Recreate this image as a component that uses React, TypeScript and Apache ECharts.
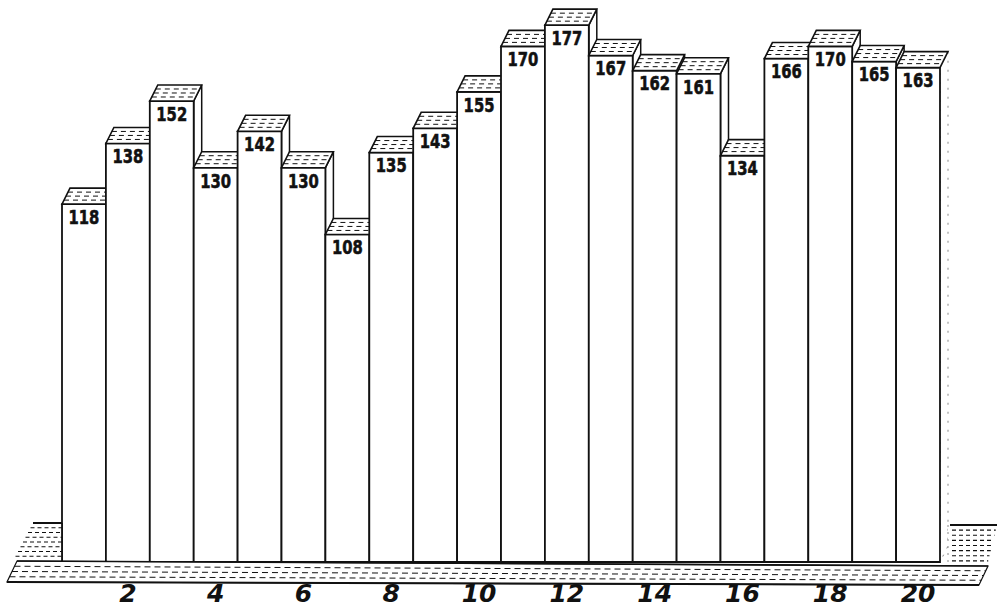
import React, { useEffect, useRef } from 'react';
import * as echarts from 'echarts';

const categories = ['1', '2', '3', '4', '5', '6', '7', '8', '9', '10', '11', '12', '13', '14', '15', '16', '17', '18', '19', '20'];
const values = [118, 138, 152, 130, 142, 130, 108, 135, 143, 155, 170, 177, 167, 162, 161, 134, 166, 170, 165, 163];

const INK = '#111';
const DX = 8;
const DY = 16;

function stripeLines(
  l0: number, r0: number, y0: number,
  l1: number, r1: number, y1: number,
  n: number, dash: number[] | null, width: number
) {
  const out: any[] = [];
  for (let k = 1; k < n; k++) {
    const t = k / n;
    out.push({
      type: 'line',
      silent: true,
      shape: {
        x1: l0 + (l1 - l0) * t, y1: y0 + (y1 - y0) * t,
        x2: r0 + (r1 - r0) * t, y2: y0 + (y1 - y0) * t,
      },
      style: { stroke: INK, lineWidth: width, lineDash: dash || undefined },
    });
  }
  return out;
}

export default function App() {
  const ref = useRef<HTMLDivElement>(null);
  useEffect(() => {
    if (!ref.current) return;
    const chart = echarts.init(ref.current, undefined, { renderer: 'svg' });

    const renderItem = (params: any, api: any) => {
      const idx = params.dataIndex;
      const v = api.value(1);
      const top = api.coord([api.value(0), v]);
      const base = api.coord([api.value(0), 0]);
      const w = api.size([1, 0])[0];
      const x0 = top[0] - w / 2;
      const x1 = top[0] + w / 2;
      const yt = top[1];
      const yb = base[1];
      const last = idx === values.length - 1;
      const children: any[] = [];
      children.push({
        type: 'polygon',
        shape: { points: [[x1, yt], [x1 + DX, yt - DY], [x1 + DX, yb - DY], [x1, yb]] },
        style: last
          ? { fill: '#fff', stroke: '#888', lineWidth: 1, lineDash: [2, 7] }
          : { fill: '#fff', stroke: INK, lineWidth: 1.5 },
      });
      children.push({
        type: 'rect',
        shape: { x: x0, y: yt, width: w, height: yb - yt },
        style: { fill: '#fff', stroke: INK, lineWidth: 1.8 },
      });
      children.push({
        type: 'polygon',
        shape: { points: [[x0, yt], [x1, yt], [x1 + DX, yt - DY], [x0 + DX, yt - DY]] },
        style: { fill: '#fff', stroke: INK, lineWidth: 1.6 },
      });
      children.push(...stripeLines(x0, x1, yt, x0 + DX, x1 + DX, yt - DY, 4, [5, 4], 1));
      children.push({
        type: 'text',
        x: (x0 + x1) / 2,
        y: yt + 13,
        scaleX: 0.74,
        style: {
          text: String(v),
          x: 0,
          y: 0,
          textAlign: 'center',
          textVerticalAlign: 'middle',
          fontFamily: '"DejaVu Sans", sans-serif',
          fontWeight: 'bold',
          fontSize: 20,
          fill: INK,
          stroke: INK,
          lineWidth: 0.6,
        },
      });
      return { type: 'group', children };
    };

    const floorTL = [17, 561], floorTR = [988, 566], floorBR = [979, 585], floorBL = [7, 582];

    const graphics: any[] = [
      {
        type: 'polygon', z: 5,
        shape: { points: [[33, 523], [62, 523], [62, 561], [13, 561]] },
        style: { fill: '#fff', stroke: null },
      },
      ...stripeLines(33, 62, 523, 13, 62, 561, 8, [4, 3], 1.2).map((e) => ({ ...e, z: 5 })),
      { type: 'line', z: 5, shape: { x1: 33, y1: 523, x2: 62, y2: 523 }, style: { stroke: INK, lineWidth: 2 } },
      { type: 'line', z: 5, shape: { x1: 62, y1: 523, x2: 62, y2: 561 }, style: { stroke: INK, lineWidth: 1.8 } },
      {
        type: 'polygon', z: 5,
        shape: { points: [[948, 525], [997, 525], [987, 566], [948, 566]] },
        style: { fill: '#fff', stroke: null },
      },
      ...stripeLines(952, 997, 525, 952, 987, 566, 8, [4, 3], 1.1).map((e) => ({ ...e, z: 5 })),
      { type: 'line', z: 5, shape: { x1: 950, y1: 525, x2: 997, y2: 525 }, style: { stroke: INK, lineWidth: 2 } },
      { type: 'line', z: 5, shape: { x1: 948, y1: 525, x2: 948, y2: 566 }, style: { stroke: '#888', lineWidth: 1, lineDash: [2, 5] } },
      {
        type: 'polygon', z: 6,
        shape: { points: [floorTL, floorTR, floorBR, floorBL] },
        style: { fill: '#fff', stroke: INK, lineWidth: 1.2 },
      },
      ...[1, 2, 3].map((k) => {
        const t = k / 4;
        return {
          type: 'line', z: 6, silent: true,
          shape: {
            x1: floorTL[0] + (floorBL[0] - floorTL[0]) * t,
            y1: floorTL[1] + (floorBL[1] - floorTL[1]) * t,
            x2: floorTR[0] + (floorBR[0] - floorTR[0]) * t,
            y2: floorTR[1] + (floorBR[1] - floorTR[1]) * t,
          },
          style: { stroke: INK, lineWidth: 1, lineDash: [6, 4] },
        };
      }),
      { type: 'line', z: 6, shape: { x1: floorBL[0], y1: floorBL[1], x2: floorBR[0], y2: floorBR[1] }, style: { stroke: INK, lineWidth: 2 } },
      { type: 'line', z: 6, shape: { x1: floorTL[0], y1: floorTL[1], x2: floorTR[0], y2: floorTR[1] }, style: { stroke: INK, lineWidth: 1.6 } },
    ];

    chart.setOption({
      animation: false,
      backgroundColor: '#fff',
      grid: { left: 62, right: 58, top: 10, bottom: 51 },
      xAxis: {
        type: 'category',
        data: categories,
        boundaryGap: true,
        axisLine: { show: false },
        axisTick: { show: false },
        splitLine: { show: false },
        axisLabel: {
          interval: (i: number) => i % 2 === 1,
          margin: 19,
          fontFamily: '"DejaVu Sans", sans-serif',
          fontStyle: 'italic',
          fontWeight: 'bold',
          fontSize: 25,
          color: INK,
        },
        z: 10,
      },
      yAxis: { type: 'value', min: 0, max: 182, show: false, splitLine: { show: false } },
      series: [
        {
          type: 'custom',
          renderItem,
          data: values.map((v, i) => [i, v]),
          z: 2,
        },
      ],
      graphic: graphics,
    });
    return () => chart.dispose();
  }, []);
  return <div ref={ref} style={{ width: 998, height: 613, position: 'absolute', left: 0, top: 0 }} />;
}
